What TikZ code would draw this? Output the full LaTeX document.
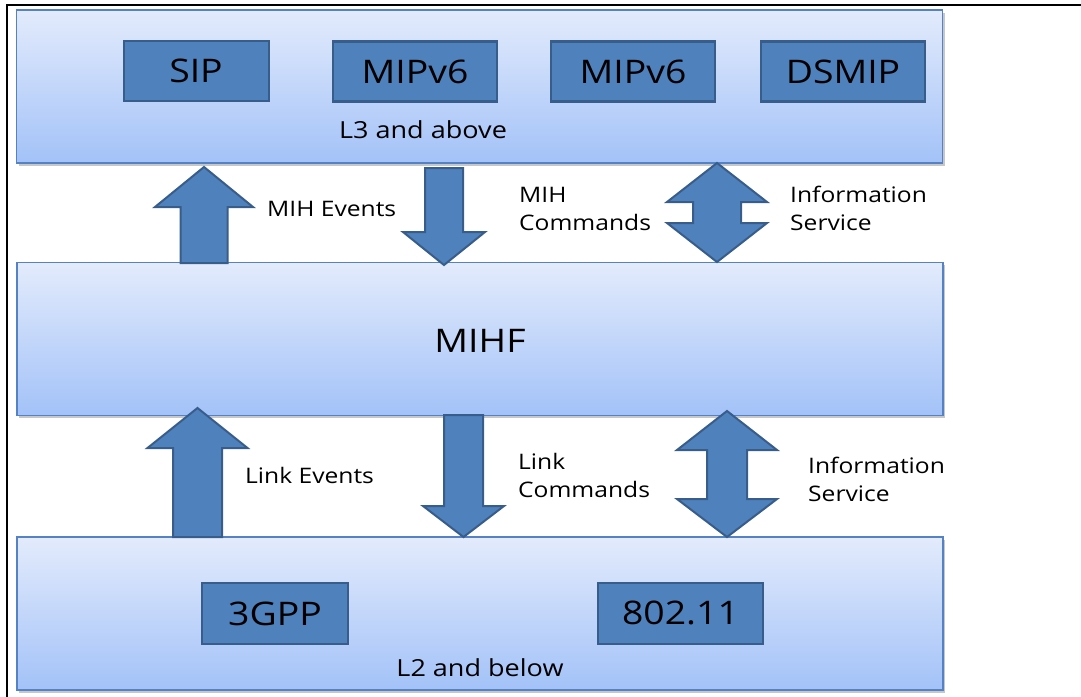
\documentclass[tikz,border=0pt]{standalone}
\usepackage{graphicx}
\usepackage{fontspec}
\setmainfont{Open Sans}
\usetikzlibrary{shadows}

\definecolor{boxblue}{RGB}{79,129,189}
\definecolor{boxedge}{RGB}{56,93,138}
\definecolor{layeredge}{RGB}{84,130,196}
\definecolor{layertop}{RGB}{227,235,252}
\definecolor{layerbot}{RGB}{163,194,248}

% slightly widened lettering
\newcommand{\hwide}[1]{\scalebox{1.15}[1]{#1}}

% single block arrow: x centre, tip y, tail y, half shaft, half head, head length (signed)
\newcommand{\singleblock}[6]{%
  \draw[blockarrow] (#1,#2) -- ({#1+#5},{#2+(#6)}) -- ({#1+#4},{#2+(#6)})
    -- ({#1+#4},#3) -- ({#1-#4},#3) -- ({#1-#4},{#2+(#6)}) -- ({#1-#5},{#2+(#6)}) -- cycle;}

% double block arrow: x centre, top tip y, bottom tip y, half shaft, half head, top head length, bottom head length
\newcommand{\doubleblock}[7]{%
  \draw[blockarrow] (#1,#2) -- ({#1+#5},{#2+#6}) -- ({#1+#4},{#2+#6})
    -- ({#1+#4},{#3-#7}) -- ({#1+#5},{#3-#7}) -- (#1,#3) -- ({#1-#5},{#3-#7})
    -- ({#1-#4},{#3-#7}) -- ({#1-#4},{#2+#6}) -- ({#1-#5},{#2+#6}) -- cycle;}

\begin{document}
\begin{tikzpicture}[x=1pt,y=-1pt,
  layer/.style={draw=layeredge, line width=1.6pt, top color=layertop, bottom color=layerbot,
    drop shadow={shadow xshift=2pt, shadow yshift=-2.5pt, opacity=0.22, fill=black},
    minimum width=926pt, minimum height=153pt, inner sep=0pt},
  proto/.style={draw=boxedge, line width=2.5pt, fill=boxblue, minimum height=60pt, inner sep=0pt},
  protolabel/.style={anchor=base, inner sep=0pt, font=\fontsize{32.5}{38}\selectfont},
  layerlabel/.style={anchor=base, inner sep=0pt, font=\fontsize{23.5}{28}\selectfont},
  flowlabel/.style={anchor=base west, inner sep=0pt, font=\fontsize{21.4}{28}\selectfont},
  blockarrow/.style={fill=boxblue, draw=boxedge, line width=2pt, line join=miter},
]
\useasboundingbox (0,0) rectangle (1081,696);

% frame
\draw[line width=2pt] (7,700) -- (7,5) -- (1085,5);

% layers
\node[layer] (upper) at (479.5,86.5) {};
\node[layer] (mihf) at (480,339) {};
\node[layer] (lower) at (480,613.5) {};

% upper-layer protocols
\node[proto, minimum width=145pt] (sip) at (196.5,71) {};
\node[proto, minimum width=164pt] (mip1) at (415,71.5) {};
\node[proto, minimum width=164pt] (mip2) at (633,71.5) {};
\node[proto, minimum width=164pt] (dsmip) at (843,71.5) {};
\node[protolabel] (sipt) at (196,82.5) {\hwide{SIP}};
\node[protolabel] (mip1t) at (415,83) {\hwide{MIPv6}};
\node[protolabel] (mip2t) at (633,83) {\hwide{MIPv6}};
\node[protolabel] (dsmipt) at (843,83) {\hwide{DSMIP}};
\node[layerlabel] (l3) at (423,138) {\hwide{L3 and above}};

% MIHF
\node[protolabel] (mihft) at (480,352) {\hwide{MIHF}};

% lower-layer technologies
\node[proto, minimum width=146pt, minimum height=61pt] (gpp) at (275,613.5) {};
\node[proto, minimum width=165pt, minimum height=61pt] (wifi) at (680.5,613.5) {};
\node[protolabel] (gppt) at (275,625) {\hwide{3GPP}};
\node[protolabel] (wifit) at (680.5,624.5) {\hwide{802.11}};
\node[layerlabel] (l2) at (480,676) {\hwide{L2 and below}};

% arrows between L3 and MIHF
\singleblock{204}{167}{263}{23.5}{49}{40}
\singleblock{444}{265}{168}{19}{41}{-33}
\doubleblock{717}{163}{262}{24}{50}{39}{39}

% arrows between MIHF and L2
\singleblock{197.5}{408}{537}{24.5}{50}{40}
\singleblock{463.5}{537}{415}{19.5}{40.5}{-31}
\doubleblock{727}{411}{537}{20}{50}{39}{38}

% flow labels
\node[flowlabel] (mihev) at (267,216) {\hwide{MIH Events}};
\node[flowlabel] (mihcmd1) at (519,202) {\hwide{MIH}};
\node[flowlabel] (mihcmd2) at (519,230) {\hwide{Commands}};
\node[flowlabel] (is1a) at (790,202) {\hwide{Information}};
\node[flowlabel] (is1b) at (790,230) {\hwide{Service}};
\node[flowlabel] (linkev) at (245,483) {\hwide{Link Events}};
\node[flowlabel] (linkcmd1) at (518,469) {\hwide{Link}};
\node[flowlabel] (linkcmd2) at (518,497) {\hwide{Commands}};
\node[flowlabel] (is2a) at (808,473) {\hwide{Information}};
\node[flowlabel] (is2b) at (808,501) {\hwide{Service}};
\end{tikzpicture}
\end{document}
